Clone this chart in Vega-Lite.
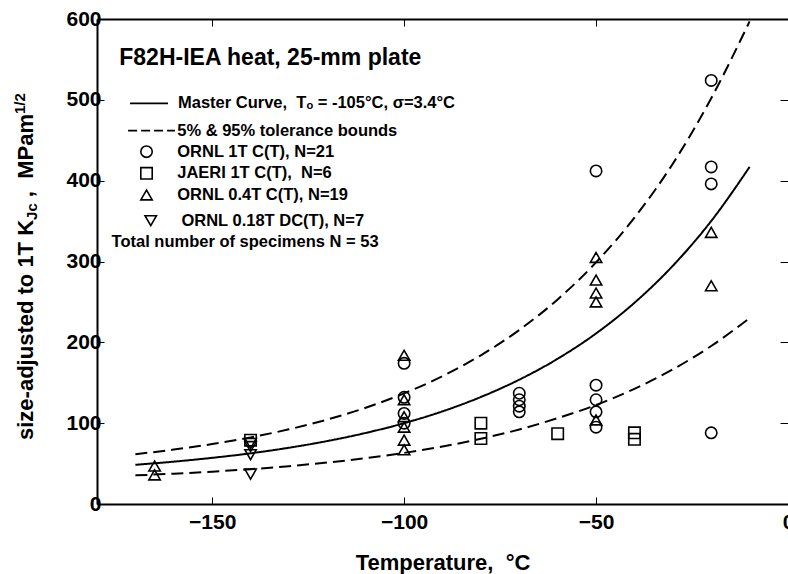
{
  "$schema": "https://vega.github.io/schema/vega-lite/v6.json",
  "width": 691,
  "height": 485,
  "autosize": {"type": "none"},
  "padding": {"left": 97, "top": 19, "right": 0, "bottom": 70},
  "background": "white",
  "config": {
    "view": {"stroke": null},
    "font": "Liberation Sans",
    "axis": {
      "grid": false,
      "domainColor": "black",
      "domainWidth": 2,
      "tickColor": "black",
      "tickWidth": 1,
      "labelFont": "Liberation Sans",
      "labelFontWeight": "bold",
      "labelFontSize": 21,
      "labelColor": "black",
      "labelFlush": false,
      "titleFont": "Liberation Sans",
      "titleFontWeight": "bold",
      "titleFontSize": 22,
      "titleColor": "black"
    }
  },
  "datasets": {
    "curves": [
      {"T": -170, "K": 48.5, "curve": "Master Curve"},
      {"T": -160, "K": 52.4, "curve": "Master Curve"},
      {"T": -150, "K": 57.1, "curve": "Master Curve"},
      {"T": -140, "K": 62.7, "curve": "Master Curve"},
      {"T": -130, "K": 69.6, "curve": "Master Curve"},
      {"T": -120, "K": 77.9, "curve": "Master Curve"},
      {"T": -110, "K": 87.9, "curve": "Master Curve"},
      {"T": -100, "K": 100.0, "curve": "Master Curve"},
      {"T": -90, "K": 114.6, "curve": "Master Curve"},
      {"T": -80, "K": 132.4, "curve": "Master Curve"},
      {"T": -70, "K": 153.8, "curve": "Master Curve"},
      {"T": -60, "K": 179.7, "curve": "Master Curve"},
      {"T": -50, "K": 211.0, "curve": "Master Curve"},
      {"T": -40, "K": 248.9, "curve": "Master Curve"},
      {"T": -30, "K": 294.7, "curve": "Master Curve"},
      {"T": -20, "K": 350.1, "curve": "Master Curve"},
      {"T": -10, "K": 417.0, "curve": "Master Curve"},
      {"T": -170, "K": 35.4, "curve": "5% bound"},
      {"T": -160, "K": 37.5, "curve": "5% bound"},
      {"T": -150, "K": 40.0, "curve": "5% bound"},
      {"T": -140, "K": 43.1, "curve": "5% bound"},
      {"T": -130, "K": 46.8, "curve": "5% bound"},
      {"T": -120, "K": 51.3, "curve": "5% bound"},
      {"T": -110, "K": 56.7, "curve": "5% bound"},
      {"T": -100, "K": 63.2, "curve": "5% bound"},
      {"T": -90, "K": 71.1, "curve": "5% bound"},
      {"T": -80, "K": 80.7, "curve": "5% bound"},
      {"T": -70, "K": 92.2, "curve": "5% bound"},
      {"T": -60, "K": 106.2, "curve": "5% bound"},
      {"T": -50, "K": 122.5, "curve": "5% bound"},
      {"T": -40, "K": 142.5, "curve": "5% bound"},
      {"T": -30, "K": 166.5, "curve": "5% bound"},
      {"T": -20, "K": 195.5, "curve": "5% bound"},
      {"T": -10, "K": 230.0, "curve": "5% bound"},
      {"T": -170, "K": 61.6, "curve": "95% bound"},
      {"T": -160, "K": 67.3, "curve": "95% bound"},
      {"T": -150, "K": 74.1, "curve": "95% bound"},
      {"T": -140, "K": 82.4, "curve": "95% bound"},
      {"T": -130, "K": 92.4, "curve": "95% bound"},
      {"T": -120, "K": 104.5, "curve": "95% bound"},
      {"T": -110, "K": 119.1, "curve": "95% bound"},
      {"T": -100, "K": 136.8, "curve": "95% bound"},
      {"T": -90, "K": 158.2, "curve": "95% bound"},
      {"T": -80, "K": 184.0, "curve": "95% bound"},
      {"T": -70, "K": 215.3, "curve": "95% bound"},
      {"T": -60, "K": 253.1, "curve": "95% bound"},
      {"T": -50, "K": 298.9, "curve": "95% bound"},
      {"T": -40, "K": 354.2, "curve": "95% bound"},
      {"T": -30, "K": 421.0, "curve": "95% bound"},
      {"T": -20, "K": 501.9, "curve": "95% bound"},
      {"T": -10, "K": 597.0, "curve": "95% bound"}
    ],
    "points": [
      {"T": -100, "K": 174, "series": "ORNL 1T C(T)"},
      {"T": -100, "K": 132, "series": "ORNL 1T C(T)"},
      {"T": -100, "K": 112, "series": "ORNL 1T C(T)"},
      {"T": -100, "K": 100, "series": "ORNL 1T C(T)"},
      {"T": -70, "K": 137, "series": "ORNL 1T C(T)"},
      {"T": -70, "K": 129, "series": "ORNL 1T C(T)"},
      {"T": -70, "K": 121, "series": "ORNL 1T C(T)"},
      {"T": -70, "K": 114, "series": "ORNL 1T C(T)"},
      {"T": -50, "K": 412, "series": "ORNL 1T C(T)"},
      {"T": -50, "K": 147, "series": "ORNL 1T C(T)"},
      {"T": -50, "K": 129, "series": "ORNL 1T C(T)"},
      {"T": -50, "K": 114, "series": "ORNL 1T C(T)"},
      {"T": -50, "K": 95, "series": "ORNL 1T C(T)"},
      {"T": -20, "K": 524, "series": "ORNL 1T C(T)"},
      {"T": -20, "K": 417, "series": "ORNL 1T C(T)"},
      {"T": -20, "K": 396, "series": "ORNL 1T C(T)"},
      {"T": -20, "K": 88, "series": "ORNL 1T C(T)"},
      {"T": -140, "K": 79, "series": "JAERI 1T C(T)"},
      {"T": -80, "K": 100, "series": "JAERI 1T C(T)"},
      {"T": -80, "K": 81, "series": "JAERI 1T C(T)"},
      {"T": -60, "K": 87, "series": "JAERI 1T C(T)"},
      {"T": -40, "K": 88, "series": "JAERI 1T C(T)"},
      {"T": -40, "K": 80, "series": "JAERI 1T C(T)"},
      {"T": -165, "K": 47, "series": "ORNL 0.4T C(T)"},
      {"T": -165, "K": 36, "series": "ORNL 0.4T C(T)"},
      {"T": -100, "K": 184, "series": "ORNL 0.4T C(T)"},
      {"T": -100, "K": 129, "series": "ORNL 0.4T C(T)"},
      {"T": -100, "K": 108, "series": "ORNL 0.4T C(T)"},
      {"T": -100, "K": 95, "series": "ORNL 0.4T C(T)"},
      {"T": -100, "K": 79, "series": "ORNL 0.4T C(T)"},
      {"T": -100, "K": 67, "series": "ORNL 0.4T C(T)"},
      {"T": -50, "K": 305, "series": "ORNL 0.4T C(T)"},
      {"T": -50, "K": 277, "series": "ORNL 0.4T C(T)"},
      {"T": -50, "K": 261, "series": "ORNL 0.4T C(T)"},
      {"T": -50, "K": 250, "series": "ORNL 0.4T C(T)"},
      {"T": -50, "K": 104, "series": "ORNL 0.4T C(T)"},
      {"T": -20, "K": 336, "series": "ORNL 0.4T C(T)"},
      {"T": -20, "K": 270, "series": "ORNL 0.4T C(T)"},
      {"T": -140, "K": 75, "series": "ORNL 0.18T DC(T)"},
      {"T": -140, "K": 71, "series": "ORNL 0.18T DC(T)"},
      {"T": -140, "K": 61, "series": "ORNL 0.18T DC(T)"},
      {"T": -140, "K": 37, "series": "ORNL 0.18T DC(T)"}
    ],
    "legendSymbols": [
      {"T": -167.1, "K": 435.9, "series": "ORNL 1T C(T)"},
      {"T": -167.1, "K": 409.1, "series": "JAERI 1T C(T)"},
      {"T": -167.1, "K": 382.3, "series": "ORNL 0.4T C(T)"},
      {"T": -166.0, "K": 350.5, "series": "ORNL 0.18T DC(T)"}
    ],
    "legendText": [
      {"T": -158.9, "K": 495.7, "text": "Master Curve,\u00a0\u00a0Tₒ = -105°C, σ=3.4°C"},
      {"T": -159.1, "K": 461.8, "text": "5% & 95% tolerance bounds"},
      {"T": -159.1, "K": 435.9, "text": "ORNL 1T C(T), N=21"},
      {"T": -159.1, "K": 409.1, "text": "JAERI 1T C(T),\u00a0\u00a0N=6"},
      {"T": -159.1, "K": 382.3, "text": "ORNL 0.4T C(T), N=19"},
      {"T": -158.0, "K": 350.5, "text": "ORNL 0.18T DC(T), N=7"},
      {"T": -176.2, "K": 324.5, "text": "Total number of specimens N = 53"}
    ]
  },
  "layer": [
    {
      "data": {"name": "curves"},
      "mark": {"type": "line", "color": "black", "strokeWidth": 2, "interpolate": "monotone", "clip": true},
      "encoding": {
        "x": {"field": "T", "type": "quantitative", "scale": {"domain": [-180, 0], "nice": false, "zero": false},
          "axis": {"orient": "bottom", "values": [-150, -100, -50, 0], "tickSize": -7, "labelPadding": 14, "title": "Temperature,\u00a0\u00a0°C", "titlePadding": 20}},
        "y": {"field": "K", "type": "quantitative", "scale": {"domain": [0, 600], "nice": false, "zero": false},
          "axis": {"orient": "left", "values": [0, 100, 200, 300, 400, 500, 600], "tickSize": -7, "labelPadding": 3, "title": null}},
        "detail": {"field": "curve", "type": "nominal"},
        "strokeDash": {"field": "curve", "type": "nominal", "legend": null,
          "scale": {"domain": ["Master Curve", "5% bound", "95% bound"], "range": [[1, 0], [12, 6], [12, 6]]}}
      }
    },
    {
      "data": {"name": "points"},
      "mark": {"type": "point", "filled": false, "stroke": "black", "strokeWidth": 1.6, "size": 130, "opacity": 1},
      "encoding": {
        "x": {"field": "T", "type": "quantitative",
          "axis": {"orient": "top", "values": [-150, -100, -50, 0], "tickSize": -7, "labels": false, "title": null}},
        "y": {"field": "K", "type": "quantitative",
          "axis": {"orient": "right", "values": [0, 100, 200, 300, 400, 500, 600], "tickSize": -8, "labels": false, "domain": false, "title": null}},
        "shape": {"field": "series", "type": "nominal", "legend": null,
          "scale": {"domain": ["ORNL 1T C(T)", "JAERI 1T C(T)", "ORNL 0.4T C(T)", "ORNL 0.18T DC(T)"], "range": ["circle", "square", "triangle-up", "triangle-down"]}}
      }
    },
    {
      "data": {"name": "legendSymbols"},
      "mark": {"type": "point", "filled": false, "stroke": "black", "strokeWidth": 1.6, "size": 130, "opacity": 1},
      "encoding": {
        "x": {"field": "T", "type": "quantitative", "axis": null},
        "y": {"field": "K", "type": "quantitative", "axis": null},
        "shape": {"field": "series", "type": "nominal", "legend": null}
      }
    },
    {
      "data": {"values": [{"T": -171.4, "T2": -161.5, "K": 495.7}]},
      "mark": {"type": "rule", "color": "black", "strokeWidth": 1.8},
      "encoding": {
        "x": {"field": "T", "type": "quantitative", "axis": null},
        "x2": {"field": "T2"},
        "y": {"field": "K", "type": "quantitative", "axis": null}
      }
    },
    {
      "data": {"values": [{"T": -171.9, "T2": -159.7, "K": 461.8}]},
      "mark": {"type": "rule", "color": "black", "strokeWidth": 1.8, "strokeDash": [9, 4]},
      "encoding": {
        "x": {"field": "T", "type": "quantitative", "axis": null},
        "x2": {"field": "T2"},
        "y": {"field": "K", "type": "quantitative", "axis": null}
      }
    },
    {
      "data": {"name": "legendText"},
      "mark": {"type": "text", "align": "left", "baseline": "middle", "fontSize": 16.5, "fontWeight": "bold", "font": "Liberation Sans", "color": "black"},
      "encoding": {
        "x": {"field": "T", "type": "quantitative", "axis": null},
        "y": {"field": "K", "type": "quantitative", "axis": null},
        "text": {"field": "text"}
      }
    },
    {
      "data": {"values": [{"T": -174.2, "K": 552.2, "text": "F82H-IEA heat, 25-mm plate"}]},
      "mark": {"type": "text", "align": "left", "baseline": "middle", "fontSize": 23, "fontWeight": "bold", "font": "Liberation Sans", "color": "black"},
      "encoding": {
        "x": {"field": "T", "type": "quantitative", "axis": null},
        "y": {"field": "K", "type": "quantitative", "axis": null},
        "text": {"field": "text"}
      }
    },
    {
      "data": {"values": [
        {"T": -196.6, "K": 79.2, "text": "size-adjusted to 1T K"},
        {"T": -196.6, "K": 379.6, "text": ",\u00a0\u00a0MPam"}
      ]},
      "mark": {"type": "text", "align": "left", "baseline": "alphabetic", "angle": 270, "fontSize": 22, "fontWeight": "bold", "font": "Liberation Sans", "color": "black"},
      "encoding": {
        "x": {"field": "T", "type": "quantitative", "axis": null},
        "y": {"field": "K", "type": "quantitative", "axis": null},
        "text": {"field": "text"}
      }
    },
    {
      "data": {"values": [
        {"T": -195.6, "K": 351.4, "text": "Jc"},
        {"T": -198.7, "K": 482.5, "text": "1/2"}
      ]},
      "mark": {"type": "text", "align": "left", "baseline": "alphabetic", "angle": 270, "fontSize": 15, "fontWeight": "bold", "font": "Liberation Sans", "color": "black"},
      "encoding": {
        "x": {"field": "T", "type": "quantitative", "axis": null},
        "y": {"field": "K", "type": "quantitative", "axis": null},
        "text": {"field": "text"}
      }
    }
  ],
  "resolve": {"axis": {"x": "independent", "y": "independent"}}
}
